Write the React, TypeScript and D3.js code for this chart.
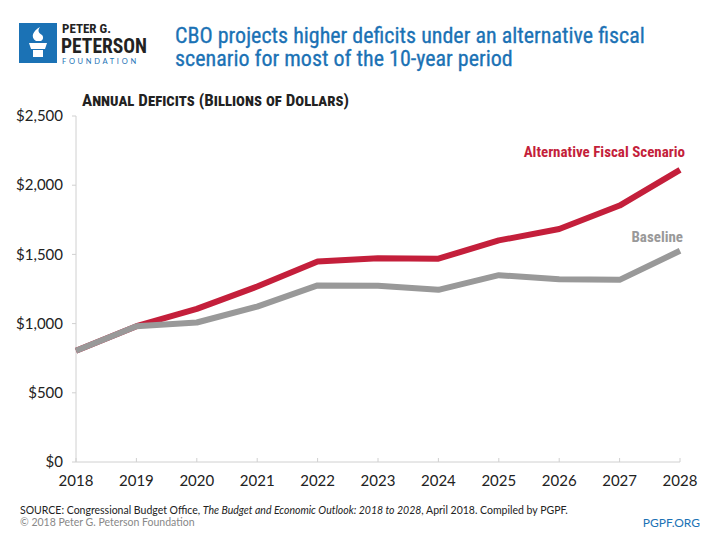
import React from 'react';
import * as d3 from 'd3';

const years = [2018, 2019, 2020, 2021, 2022, 2023, 2024, 2025, 2026, 2027, 2028];
const baseline = [804, 981, 1008, 1123, 1276, 1273, 1244, 1350, 1320, 1316, 1526];
const alternative = [804, 981, 1106, 1268, 1449, 1473, 1469, 1601, 1683, 1853, 2111];
const yTicks = [0, 500, 1000, 1500, 2000, 2500];
const titleLines = [
  'CBO projects higher deficits under an alternative fiscal',
  'scenario for most of the 10-year period',
];

const W = 720;
const H = 540;
const COND = '"Liberation Sans Narrow", "Roboto Condensed", "Arial Narrow", Roboto, sans-serif';
const BODY = 'Lato, "Noto Sans", sans-serif';
const RED = '#c41f3b';
const GRAY = '#999999';
const BLUE = '#1b72b5';

const App: React.FC = () => {
  const x = d3.scaleLinear().domain([2018, 2028]).range([76, 680]);
  const y = d3.scaleLinear().domain([0, 2500]).range([462, 116]);
  const line = d3.line<number>().x((d, i) => x(years[i])).y(d => y(d));

  return (
    <svg width={W} height={H} style={{ position: 'absolute', left: 0, top: 0, background: '#fff' }}>
      {/* logo */}
      <g>
        <rect x={19} y={23} width={38} height={40} fill={BLUE} />
        <path d="M29 43 h18 l-2 6 h-14 z" fill="#fff" />
        <rect x={33} y={50} width={10} height={7} fill="#fff" />
        <path d="M36 41 c-6 -4 -3 -10 4 -14 c-3 4 -1 6 2 8 c2 2 1 5 -1 6 z" fill="#fff" />
        <text x={62} y={33} fontFamily={COND} fontWeight="bold" fontSize={13} fill="#222">PETER G.</text>
        <text x={61} y={53} fontFamily={COND} fontWeight="bold" fontSize={19.5} fill="#222">PETERSON</text>
        <text x={62} y={64} fontFamily={BODY} fontSize={7.5} letterSpacing={2.7} fill={BLUE}>FOUNDATION</text>
      </g>
      {titleLines.map((t, i) => (
        <text key={i} x={175} y={43 + i * 23} fontFamily={COND} fontSize={22} fill={BLUE} stroke={BLUE} strokeWidth={0.3}>
          {t}
        </text>
      ))}

      {/* axis title */}
      <text x={82} y={106} fontFamily={COND} fontWeight="bold" fontSize={17} fill="#222" style={{ fontVariant: 'small-caps' }}>
        Annual Deficits (Billions of Dollars)
      </text>

      {/* axes */}
      <line x1={x(2018)} x2={x(2018)} y1={y(2500)} y2={y(0)} stroke="#d0d0d0" strokeWidth={1} />
      <line x1={x(2018)} x2={x(2028)} y1={y(0)} y2={y(0)} stroke="#d0d0d0" strokeWidth={1} />
      {yTicks.map(t => (
        <g key={t}>
          <line x1={x(2018) - 4} x2={x(2018)} y1={y(t)} y2={y(t)} stroke="#d0d0d0" />
          <text x={63} y={y(t)} dy="0.35em" textAnchor="end" fontFamily={BODY} fontSize={15} fill="#222">
            {d3.format('$,')(t)}
          </text>
        </g>
      ))}
      {years.map(yr => (
        <g key={yr}>
          <line x1={x(yr)} x2={x(yr)} y1={y(0) - 4} y2={y(0)} stroke="#d0d0d0" />
          <text x={x(yr)} y={486} textAnchor="middle" fontFamily={BODY} fontSize={15} fill="#222">{yr}</text>
        </g>
      ))}

      {/* lines */}
      <path d={line(alternative) || ''} fill="none" stroke={RED} strokeWidth={6} strokeLinejoin="round" />
      <path d={line(baseline) || ''} fill="none" stroke={GRAY} strokeWidth={6} strokeLinejoin="round" />

      <text x={685} y={157} textAnchor="end" fontFamily={COND} fontWeight="bold" fontSize={15} fill={RED}>Alternative Fiscal Scenario</text>
      <text x={683} y={242} textAnchor="end" fontFamily={COND} fontWeight="bold" fontSize={15} fill={GRAY}>Baseline</text>

      {/* footer */}
      <text x={20} y={514} fontFamily={BODY} fontSize={10.5} fill="#222">
        SOURCE: Congressional Budget Office, <tspan fontStyle="italic">The Budget and Economic Outlook: 2018 to 2028</tspan>, April 2018. Compiled by PGPF.
      </text>
      <text x={20} y={526} fontFamily={BODY} fontSize={10.5} fill="#888">© 2018 Peter G. Peterson Foundation</text>
      <text x={700} y={527} textAnchor="end" fontFamily={BODY} fontSize={12} fill={BLUE}>PGPF.ORG</text>
    </svg>
  );
};

export default App;
